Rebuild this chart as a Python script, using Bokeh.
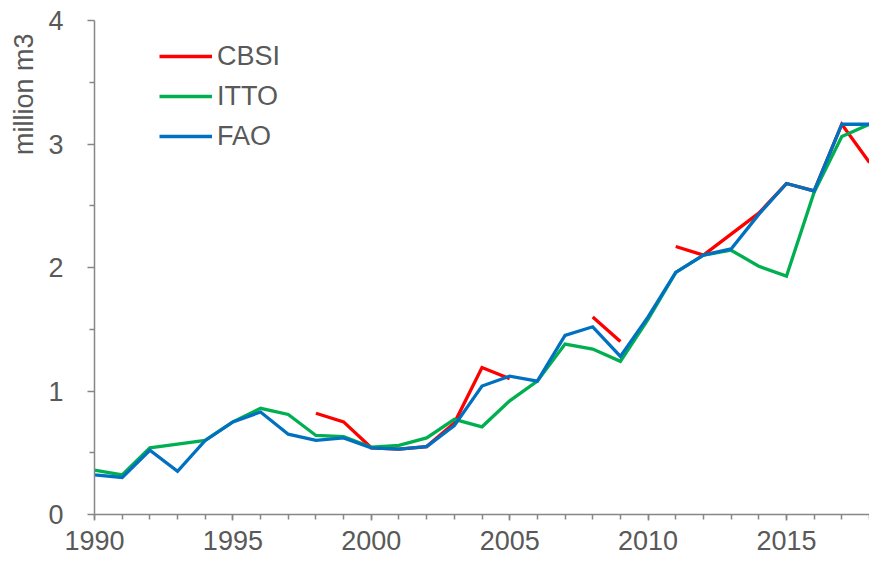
import math
from bokeh.plotting import figure
from bokeh.models import ColumnDataSource, FixedTicker, Legend, LegendItem, Title, Range1d
from bokeh.embed import file_html
from bokeh.resources import INLINE

NaN = float("nan")

years = list(range(1990, 2019))

cbsi = [NaN, NaN, NaN, NaN, NaN, NaN, NaN, NaN,
        0.82, 0.75, 0.54, 0.53, 0.55, 0.74, 1.19, 1.10,
        NaN, NaN, 1.60, 1.40, NaN,
        2.17, 2.10, 2.27, 2.44, 2.68, 2.62, 3.16, 2.85]

itto = [0.36, 0.32, 0.54, 0.57, 0.60, 0.75, 0.86, 0.81, 0.64, 0.63,
        0.545, 0.56, 0.62, 0.77, 0.71, 0.92, 1.08, 1.38, 1.34, 1.24,
        1.58, 1.96, 2.10, 2.14, 2.01, 1.93, 2.61, 3.06, 3.16]

fao = [0.32, 0.30, 0.52, 0.35, 0.60, 0.75, 0.83, 0.65, 0.60, 0.62,
       0.54, 0.53, 0.55, 0.72, 1.04, 1.12, 1.08, 1.45, 1.52, 1.28,
       1.60, 1.96, 2.10, 2.15, 2.43, 2.68, 2.62, 3.16, 3.16]

series_names = ["CBSI", "ITTO", "FAO"]
series_colors = ["#FF0000", "#00B050", "#0070C0"]

x_major = [1990, 1995, 2000, 2005, 2010, 2015]
y_major = [0, 1, 2, 3, 4]
y_minor = [0.5, 1.5, 2.5, 3.5]
y_title = "million m3"

FONT = "Liberation Sans"
TXT = "#595959"
AX = "#868686"

src = ColumnDataSource(dict(year=years, CBSI=cbsi, ITTO=itto, FAO=fao))

p = figure(width=869, height=563, output_backend="svg", toolbar_location=None,
           x_range=Range1d(1990, 2018), y_range=Range1d(0, 4),
           min_border_left=93, min_border_right=0, min_border_top=20,
           min_border_bottom=49)
p.outline_line_color = None
p.xgrid.visible = False
p.ygrid.visible = False
p.background_fill_color = "white"
p.border_fill_color = "white"

renderers = []
for name, col in zip(series_names, series_colors):
    r = p.line("year", name, source=src, line_color=col, line_width=3.3,
               line_join="miter")
    renderers.append(r)

# axes
xa = p.xaxis[0]
xa.ticker = FixedTicker(ticks=x_major, minor_ticks=years)
xa.axis_line_color = AX
xa.axis_line_width = 1.5
xa.major_tick_line_color = AX
xa.minor_tick_line_color = AX
xa.major_tick_line_width = 1.5
xa.minor_tick_line_width = 1.5
xa.major_tick_out = 6
xa.major_tick_in = 0
xa.minor_tick_out = 5
xa.minor_tick_in = 0
xa.major_label_text_font = FONT
xa.major_label_text_font_size = "27px"
xa.major_label_text_color = TXT
xa.major_label_standoff = 10

ya = p.yaxis[0]
ya.ticker = FixedTicker(ticks=y_major, minor_ticks=y_minor)
ya.axis_line_color = AX
ya.axis_line_width = 1.5
ya.major_tick_line_color = AX
ya.minor_tick_line_color = AX
ya.major_tick_line_width = 1.5
ya.minor_tick_line_width = 1.5
ya.major_tick_out = 7
ya.major_tick_in = 0
ya.minor_tick_out = 5
ya.minor_tick_in = 0
ya.major_label_text_font = FONT
ya.major_label_text_font_size = "27px"
ya.major_label_text_color = TXT
ya.major_label_standoff = 24

ttl = Title(text=y_title, align="right", offset=13, standoff=13,
            text_font=FONT, text_font_size="27px", text_color=TXT,
            text_font_style="normal", text_line_height=1.0)
p.add_layout(ttl, "left")

legend = Legend(items=[LegendItem(label=n, renderers=[r]) for n, r in zip(series_names, renderers)],
                location=(65, 358), orientation="vertical",
                glyph_width=53, glyph_height=40, label_height=40,
                label_standoff=5, spacing=0, padding=0, margin=0,
                label_text_font=FONT, label_text_font_size="27px",
                label_text_color=TXT, label_text_baseline="middle",
                border_line_color=None, background_fill_alpha=0)
p.add_layout(legend)

open("out.html", "w").write(file_html(p, INLINE))
